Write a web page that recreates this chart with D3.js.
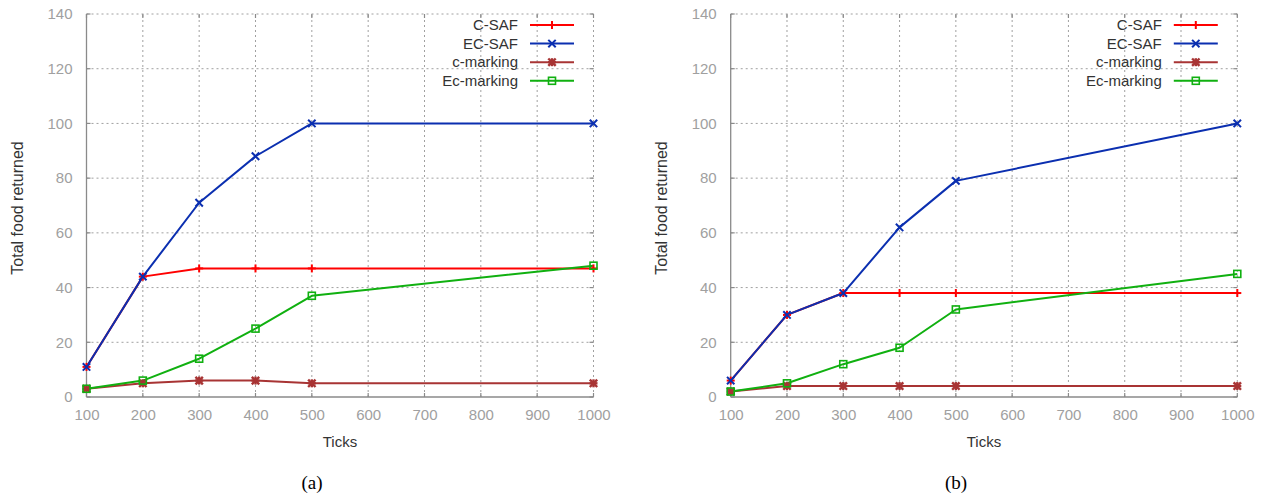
<!DOCTYPE html>
<html><head><meta charset="utf-8">
<script src="https://cdn.jsdelivr.net/npm/d3@7"></script>
<style>body{margin:0;background:#fff}svg{display:block}</style>
</head><body>
<svg id="c" width="1261" height="494"></svg>
<script>
const ticks = [100, 200, 300, 400, 500, 1000];
const xTickLabels = [100, 200, 300, 400, 500, 600, 700, 800, 900, 1000];
const yTickLabels = [0, 20, 40, 60, 80, 100, 120, 140];
const seriesNames = ["C-SAF", "EC-SAF", "c-marking", "Ec-marking"];

// Panel (a)
const aCSAF = [11, 44, 47, 47, 47, 47];
const aECSAF = [11, 44, 71, 88, 100, 100];
const aCmarking = [3, 5, 6, 6, 5, 5];
const aEcmarking = [3, 6, 14, 25, 37, 48];

// Panel (b)
const bCSAF = [6, 30, 38, 38, 38, 38];
const bECSAF = [6, 30, 38, 62, 79, 100];
const bCmarking = [2, 4, 4, 4, 4, 4];
const bEcmarking = [2, 5, 12, 18, 32, 45];

const colors = ["#ff0000", "#0b2fb0", "#a83434", "#10b010"];
const markerTypes = ["plus", "cross", "star", "square"];

const svg = d3.select("#c");
const font = "'Liberation Sans', Arial, sans-serif";

function marker(g, type, x, y, color) {
  const s = 4;
  const sw = type === "star" ? 2.4 : 2;
  if (type === "plus" || type === "star") {
    g.append("line").attr("x1", x - s).attr("x2", x + s).attr("y1", y).attr("y2", y).attr("stroke", color).attr("stroke-width", sw);
    g.append("line").attr("x1", x).attr("x2", x).attr("y1", y - s).attr("y2", y + s).attr("stroke", color).attr("stroke-width", sw);
  }
  if (type === "cross" || type === "star") {
    const t = 3.7;
    g.append("line").attr("x1", x - t).attr("x2", x + t).attr("y1", y - t).attr("y2", y + t).attr("stroke", color).attr("stroke-width", sw);
    g.append("line").attr("x1", x - t).attr("x2", x + t).attr("y1", y + t).attr("y2", y - t).attr("stroke", color).attr("stroke-width", sw);
  }
  if (type === "square") {
    g.append("rect").attr("x", x - 3.5).attr("y", y - 3.5).attr("width", 7).attr("height", 7).attr("fill", "none").attr("stroke", color).attr("stroke-width", 1.6);
  }
}

function drawPanel(seriesList, x0, x1, caption, ticksX, yLabelX, captionX) {
  const y0 = 397, y1 = 14;
  const x = d3.scaleLinear().domain([100, 1000]).range([x0, x1]);
  const y = d3.scaleLinear().domain([0, 140]).range([y0, y1]);
  const g = svg.append("g");

  // grid
  const grid = g.append("g");
  xTickLabels.forEach(v => {
    if (v === 100) return;
    grid.append("line").attr("x1", x(v)).attr("x2", x(v)).attr("y1", y0).attr("y2", y1)
      .attr("stroke", "#a0a0a0").attr("stroke-width", 1).attr("stroke-dasharray", "2,3");
  });
  yTickLabels.forEach(v => {
    if (v === 0) return;
    grid.append("line").attr("x1", x0).attr("x2", x1).attr("y1", y(v)).attr("y2", y(v))
      .attr("stroke", "#a0a0a0").attr("stroke-width", 1).attr("stroke-dasharray", "2,3");
  });

  // axes via d3
  const xAxis = d3.axisBottom(x).tickValues(xTickLabels).tickSize(0).tickPadding(12).tickFormat(d3.format("d"));
  const yAxis = d3.axisLeft(y).tickValues(yTickLabels).tickSize(0).tickPadding(14).tickFormat(d3.format("d"));
  const gx = g.append("g").attr("transform", `translate(0,${y0})`).call(xAxis);
  const gy = g.append("g").attr("transform", `translate(${x0},0)`).call(yAxis);
  [gx, gy].forEach(a => {
    a.select(".domain").attr("stroke", "#8a8a8a").attr("stroke-width", 1.3);
    a.selectAll("text").attr("fill", "#a0a0a0").style("font-family", font).style("font-size", "15px");
  });
  gx.select(".domain").attr("d", `M${x0},0H${x1}`);
  gy.select(".domain").attr("d", `M0,${y0}V${y1}`);

  // tick marks (inward, both sides)
  xTickLabels.forEach(v => {
    g.append("line").attr("x1", x(v)).attr("x2", x(v)).attr("y1", y0).attr("y2", y0 - 4).attr("stroke", "#8a8a8a").attr("stroke-width", 1.2);
    g.append("line").attr("x1", x(v)).attr("x2", x(v)).attr("y1", y1).attr("y2", y1 + 4).attr("stroke", "#8a8a8a").attr("stroke-width", 1.2);
  });
  yTickLabels.forEach(v => {
    g.append("line").attr("x1", x0).attr("x2", x0 + 4).attr("y1", y(v)).attr("y2", y(v)).attr("stroke", "#8a8a8a").attr("stroke-width", 1.2);
    g.append("line").attr("x1", x1).attr("x2", x1 - 4).attr("y1", y(v)).attr("y2", y(v)).attr("stroke", "#8a8a8a").attr("stroke-width", 1.2);
  });

  // series
  const line = d3.line().x((d, i) => x(ticks[i])).y(d => y(d));
  seriesList.forEach((vals, si) => {
    g.append("path").datum(vals).attr("d", line).attr("fill", "none")
      .attr("stroke", colors[si]).attr("stroke-width", 2).attr("stroke-linejoin", "round");
  });
  seriesList.forEach((vals, si) => {
    vals.forEach((v, i) => marker(g, markerTypes[si], x(ticks[i]), y(v), colors[si]));
  });

  // legend
  const legRight = x1 - 19.5;
  seriesNames.forEach((name, i) => {
    const ly = 25 + i * 18.6;
    g.append("text").attr("x", legRight - 56).attr("y", ly + 5).attr("text-anchor", "end")
      .attr("fill", "#333").style("font-family", font).style("font-size", "15px").text(name);
    g.append("line").attr("x1", legRight - 44).attr("x2", legRight).attr("y1", ly).attr("y2", ly)
      .attr("stroke", colors[i]).attr("stroke-width", 2);
    marker(g, markerTypes[i], legRight - 22, ly, colors[i]);
  });

  // axis titles
  g.append("text").attr("x", ticksX).attr("y", 447).attr("text-anchor", "middle")
    .attr("fill", "#333").style("font-family", font).style("font-size", "15px").text("Ticks");
  g.append("text").attr("transform", `translate(${yLabelX},208) rotate(-90)`).attr("text-anchor", "middle")
    .attr("fill", "#333").style("font-family", font).style("font-size", "16px").text("Total food returned");
  g.append("text").attr("x", captionX).attr("y", 489).attr("text-anchor", "middle")
    .attr("fill", "#000").style("font-family", "'Liberation Serif', 'Times New Roman', serif").style("font-size", "19px").text(caption);
}

drawPanel([aCSAF, aECSAF, aCmarking, aEcmarking], 86.5, 593.5, "(a)", 340, 23, 312);
drawPanel([bCSAF, bECSAF, bCmarking, bEcmarking], 730.7, 1237.3, "(b)", 984, 667, 956);
</script>
</body></html>
